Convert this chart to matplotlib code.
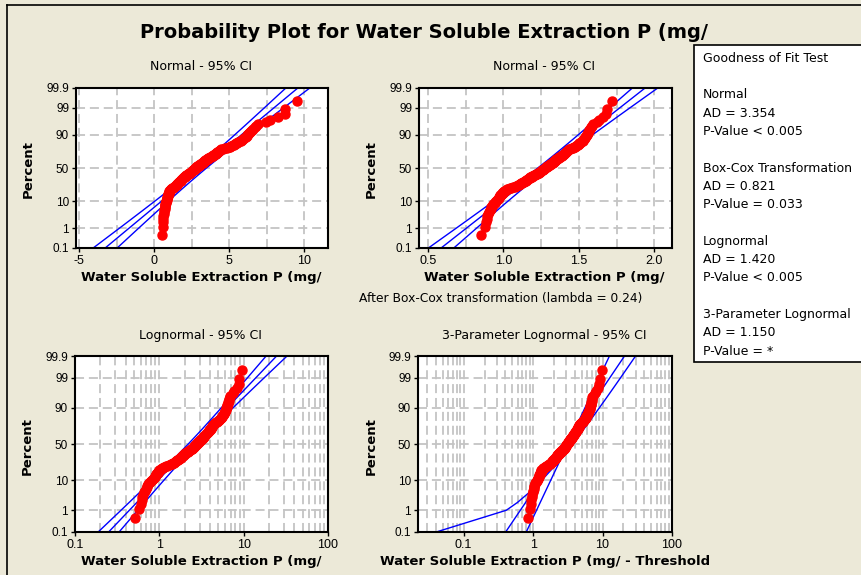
"""
Minitab-style distribution identification: four probability plots of
Water Soluble Extraction P with 95% CI bands and a goodness-of-fit box.
"""
from statistics import NormalDist

import numpy as np
import matplotlib
matplotlib.use("Agg")
import matplotlib.pyplot as plt
from matplotlib.lines import Line2D
from matplotlib.patches import Rectangle
from matplotlib.ticker import FixedLocator, MultipleLocator, LogLocator, NullFormatter

# ── data ────────────────────────────────────────────────────────────────────
water_p = [
    0.52, 0.58, 0.60, 0.62, 0.63, 0.64, 0.66, 0.68, 0.70, 0.71,
    0.72, 0.74, 0.75, 0.78, 0.80, 0.82, 0.84, 0.86, 0.88, 0.89,
    0.91, 0.92, 0.94, 0.96, 0.97, 0.99, 1.00, 1.02, 1.05, 1.08,
    1.11, 1.15, 1.20, 1.24, 1.30, 1.36, 1.41, 1.46, 1.50, 1.53,
    1.56, 1.59, 1.62, 1.65, 1.69, 1.73, 1.77, 1.80, 1.83, 1.86,
    1.89, 1.92, 1.95, 1.98, 2.01, 2.04, 2.08, 2.12, 2.16, 2.21,
    2.25, 2.30, 2.34, 2.39, 2.43, 2.46, 2.49, 2.52, 2.55, 2.58,
    2.61, 2.64, 2.67, 2.70, 2.73, 2.77, 2.81, 2.85, 2.89, 2.93,
    2.97, 3.01, 3.05, 3.09, 3.13, 3.17, 3.21, 3.25, 3.29, 3.32,
    3.35, 3.38, 3.42, 3.46, 3.50, 3.54, 3.58, 3.63, 3.68, 3.73,
    3.78, 3.84, 3.90, 3.96, 4.02, 4.06, 4.10, 4.14, 4.18, 4.22,
    4.26, 4.30, 4.35, 4.40, 4.46, 4.58, 4.72, 4.86, 4.98, 5.08,
    5.16, 5.24, 5.32, 5.40, 5.47, 5.55, 5.63, 5.71, 5.79, 5.87,
    5.95, 6.03, 6.10, 6.17, 6.23, 6.29, 6.35, 6.41, 6.48, 6.55,
    6.62, 6.70, 6.80, 6.95, 7.45, 7.70, 8.25, 8.70, 8.75, 9.50,
]
boxcox_lambda = 0.24
threshold = -0.32

pct_ticks = [0.1, 1, 10, 50, 90, 99, 99.9]
ci_pcts = [0.1, 1, 2, 5, 10, 20, 30, 40, 50, 60, 70, 80, 90, 95, 98, 99, 99.9]

gof_names = ["Normal", "Box-Cox Transformation", "Lognormal", "3-Parameter Lognormal"]
gof_ad = [3.354, 0.821, 1.420, 1.150]
gof_p = ["< 0.005", "= 0.033", "< 0.005", "= *"]

# ── setup ───────────────────────────────────────────────────────────────────
W, H = 861, 575
BG = "#ECE9D8"
GRID = "#C4C4C4"
plt.rcParams["font.family"] = "DejaVu Sans"
plt.rcParams["lines.scale_dashes"] = False

nd = NormalDist()


def zq(pct):
    return nd.inv_cdf(pct / 100.0)


x = np.sort(np.array(water_p))
n = len(x)
z_pts = np.array([zq(100 * (i - 0.3) / (n + 0.4)) for i in range(1, n + 1)])  # median ranks
z_ci = np.array([zq(p) for p in ci_pcts])
z_lo, z_hi = zq(0.1), zq(99.9)


def normal_bands(t):
    m, s = t.mean(), t.std(ddof=1)
    fit = m + s * z_ci
    half = 1.96 * s * np.sqrt(1 / n + z_ci ** 2 / (2 * n))
    return fit, fit - half, fit + half


fig = plt.figure(figsize=(W / 100, H / 100), dpi=100, facecolor=BG)


def px_axes(left, top, right, bottom):
    return fig.add_axes([left / W, 1 - bottom / H, (right - left) / W, (bottom - top) / H])


def ftext(px, py, s, **kw):
    fig.text(px / W, 1 - py / H, s, ha="center", va="center", **kw)


def style(ax, xlim, xt, xtl):
    ax.set_facecolor("white")
    ax.set_xlim(*xlim)
    ax.set_ylim(z_lo, z_hi)
    ax.set_yticks([zq(p) for p in pct_ticks])
    ax.set_yticklabels([f"{p:g}" for p in pct_ticks], fontsize=8.5, family="Liberation Sans")
    ax.xaxis.set_major_locator(FixedLocator(xt))
    ax.set_xticklabels(xtl, fontsize=9, family="Liberation Sans")
    ax.tick_params(direction="out", length=3, width=1, pad=2)
    ax.tick_params(which="minor", length=0)
    ax.grid(True, which="both", color=GRID, lw=1.3, linestyle=(0, (6.5, 3.5)))
    ax.set_axisbelow(True)
    for sp in ax.spines.values():
        sp.set_linewidth(1.5)


def draw(ax, xs, fit, lo, hi):
    ax.plot(fit[[0, -1]], [z_ci[0], z_ci[-1]], color="blue", lw=1.0, zorder=2)
    ax.plot(lo, z_ci, color="blue", lw=1.0, zorder=2)
    ax.plot(hi, z_ci, color="blue", lw=1.0, zorder=2)
    ax.plot(xs, z_pts, "o", color="red", ms=6.5, mec="red", zorder=3)


# ── Normal ──────────────────────────────────────────────────────────────────
ax1 = px_axes(76, 88, 328, 248)
fit, lo, hi = normal_bands(x)
draw(ax1, x, fit, lo, hi)
style(ax1, (-5.2, 11.6), [-5, 0, 5, 10], ["-5", "0", "5", "10"])
ax1.xaxis.set_minor_locator(MultipleLocator(2.5))

# ── Box-Cox ─────────────────────────────────────────────────────────────────
ax2 = px_axes(419, 88, 672, 248)
xb = x ** boxcox_lambda
fit, lo, hi = normal_bands(xb)
draw(ax2, xb, fit, lo, hi)
style(ax2, (0.442, 2.116), [0.5, 1.0, 1.5, 2.0], ["0.5", "1.0", "1.5", "2.0"])
ax2.xaxis.set_minor_locator(MultipleLocator(0.25))

# ── Lognormal ───────────────────────────────────────────────────────────────
ax3 = px_axes(75, 356, 328, 532)
ax3.set_xscale("log")
fit, lo, hi = normal_bands(np.log10(x))
draw(ax3, x, 10 ** fit, 10 ** lo, 10 ** hi)
style(ax3, (0.1, 100), [0.1, 1, 10, 100], ["0.1", "1", "10", "100"])
ax3.xaxis.set_minor_locator(LogLocator(base=10, subs=np.arange(2, 10)))
ax3.xaxis.set_minor_formatter(NullFormatter())

# ── 3-Parameter Lognormal ───────────────────────────────────────────────────
ax4 = px_axes(418, 356, 672, 532)
ax4.set_xscale("log")
x3 = x - threshold
t3 = np.log10(x3)
m3, s3 = t3.mean(), t3.std(ddof=1)
fit3 = 10 ** (m3 + s3 * z_ci)
# threshold uncertainty drags one bound toward zero in the lower tail
wide3 = 1.47 * fit3 - 1.37 * fit3[0]
narrow3 = 10 ** (m3 + 0.04 + 0.70 * s3 * z_ci)
draw(ax4, x3, fit3, wide3, narrow3)
style(ax4, (0.022, 100), [0.1, 1, 10, 100], ["0.1", "1", "10", "100"])
ax4.xaxis.set_minor_locator(LogLocator(base=10, subs=np.arange(2, 10)))
ax4.xaxis.set_minor_formatter(NullFormatter())

# ── text ────────────────────────────────────────────────────────────────────
ftext(424, 32, "Probability Plot for Water Soluble Extraction P (mg/",
      fontsize=14, fontweight="bold")
bold = dict(fontsize=9.5, fontweight="bold")
sub = dict(fontsize=9)
ftext(201, 67, "Normal - 95% CI", **sub)
ftext(544, 67, "Normal - 95% CI", **sub)
ftext(200, 335, "Lognormal - 95% CI", **sub)
ftext(544, 335, "3-Parameter Lognormal - 95% CI", **sub)
ftext(201, 278, "Water Soluble Extraction P (mg/", **bold)
ftext(544, 278, "Water Soluble Extraction P (mg/", **bold)
ftext(201, 562, "Water Soluble Extraction P (mg/", **bold)
ftext(545, 562, "Water Soluble Extraction P (mg/ - Threshold", **bold)
for px, py in [(28, 169), (371, 169), (27, 446), (371, 446)]:
    ftext(px, py, "Percent", rotation=90, **bold)
ftext(501, 298, f"After Box-Cox transformation (lambda = {boxcox_lambda})", fontsize=8.8)

# ── goodness of fit box ─────────────────────────────────────────────────────
fig.add_artist(Rectangle((694 / W, 1 - 362 / H), 200 / W, 317 / H,
                         transform=fig.transFigure, facecolor="white",
                         edgecolor="black", lw=1.2))
gx = 703 / W
fig.text(gx, 1 - 58 / H, "Goodness of Fit Test", fontsize=9, va="center")
for k, (name, ad, pv) in enumerate(zip(gof_names, gof_ad, gof_p)):
    y0 = 95 + k * 73.2
    fig.text(gx, 1 - y0 / H, name, fontsize=9, va="center")
    fig.text(gx, 1 - (y0 + 18.3) / H, f"AD = {ad:.3f}", fontsize=9, va="center")
    fig.text(gx, 1 - (y0 + 36.6) / H, f"P-Value {pv}", fontsize=9, va="center")

# outer frame (partially cropped in the original)
fig.add_artist(Line2D([7 / W, 1], [1 - 5 / H, 1 - 5 / H], transform=fig.transFigure,
                      color="black", lw=1.2))
fig.add_artist(Line2D([7 / W, 7 / W], [0, 1 - 5 / H], transform=fig.transFigure,
                      color="black", lw=1.2))

fig.savefig("out.png", dpi=100, facecolor=BG)
